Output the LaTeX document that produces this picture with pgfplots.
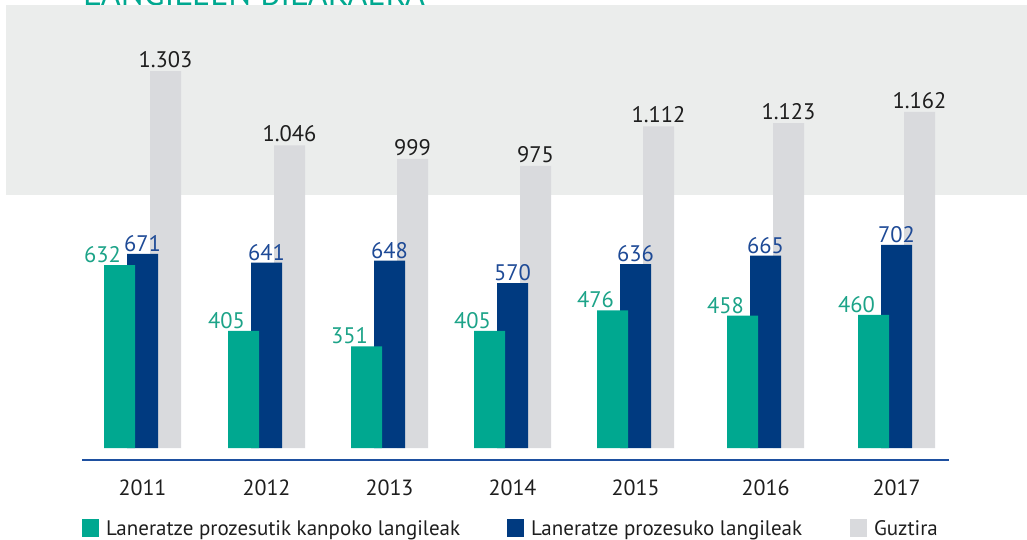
\documentclass[border=0pt]{standalone}
\usepackage{pgfplots}
\pgfplotsset{compat=1.18}
\usepackage{fontspec}
\setmainfont{PT Sans}
\definecolor{bgrey}{RGB}{235,237,236}
\definecolor{cgreen}{RGB}{0,168,144}
\definecolor{cnavy}{RGB}{0,58,128}
\definecolor{cgrey}{RGB}{217,218,221}
\definecolor{lgreen}{RGB}{28,163,136}
\definecolor{lnavy}{RGB}{30,74,150}
\definecolor{axline}{RGB}{30,80,160}
\definecolor{txt}{RGB}{30,30,30}
\begin{document}
\begin{tikzpicture}[x=1pt,y=1pt]
\path[use as bounding box] (0,0) rectangle (1027,-540);
\node[anchor=base west, inner sep=0pt, text=cgreen, font=\fontsize{34}{36}\selectfont] at (83,-5.5) {LANGILEEN BILAKAERA};
\fill[bgrey] (6,-5) rectangle (1027,-195);
\begin{axis}[
  at={(82pt,-460pt)}, anchor=south west,
  x=1pt, y=0.2893pt,
  xmin=82, xmax=949, ymin=-41.48, ymax=1400,
  clip=false,
  axis x line*=bottom, axis y line=none,
  axis line style={axline, line width=1.1pt},
  ybar, bar width=31pt,
  xtick={142.5,266.5,389.5,512.5,635.5,765.5,896.5},
  xticklabels={2011,2012,2013,2014,2015,2016,2017},
  major tick length=0pt,
  xticklabel style={anchor=base, yshift=-35pt, text=txt, font=\fontsize{22}{24}\selectfont},
  ytick=\empty,
  legend columns=3,
  reverse legend,
  legend style={at={(axis cs:82,-276.5)}, anchor=west, draw=none, fill=none,
    inner sep=0pt, outer sep=0pt, /tikz/column sep=0pt,
    nodes={inner sep=0pt, anchor=base west}, text=txt,
    font=\fontsize{21}{24}\selectfont},
  legend image code/.code={\fill[#1] (0pt,-1pt) rectangle (17pt,17pt);},
]
\addplot[draw=none, fill=cgrey, bar shift=23pt,
  nodes near coords, point meta=explicit symbolic,
  nodes near coords style={text=txt, anchor=south, inner sep=0pt, yshift=3pt, font=\fontsize{22.5}{24}\selectfont}]
  coordinates {(142.5,1303)[1.303] (266.5,1046)[1.046] (389.5,999)[999] (512.5,975)[975] (635.5,1112)[1.112] (765.5,1123)[1.123] (896.5,1162)[1.162]};
\addlegendentry{\hspace{7pt}Guztira}
\addplot[draw=none, fill=cnavy, bar shift=0pt,
  nodes near coords, point meta=explicit symbolic,
  nodes near coords style={text=lnavy, anchor=south, inner sep=0pt, yshift=2pt, font=\fontsize{22.5}{24}\selectfont}]
  coordinates {(142.5,671)[671] (266.5,641)[641] (389.5,648)[648] (512.5,570)[570] (635.5,636)[636] (765.5,665)[665] (896.5,702)[702]};
\addlegendentry{\makebox[326pt][l]{\hspace{7pt}Laneratze prozesuko langileak}}
\addplot[draw=none, fill=cgreen, bar shift=-23pt,
  nodes near coords, point meta=explicit symbolic,
  nodes near coords style={text=lgreen, anchor=south, inner sep=0pt, yshift=2pt, xshift=-17pt, font=\fontsize{22.5}{24}\selectfont}]
  coordinates {(142.5,632)[632] (266.5,405)[405] (389.5,351)[351] (512.5,405)[405] (635.5,476)[476] (765.5,458)[458] (896.5,460)[460]};
\addlegendentry{\makebox[408pt][l]{\hspace{7pt}Laneratze prozesutik kanpoko langileak}}
\end{axis}
\end{tikzpicture}
\end{document}
